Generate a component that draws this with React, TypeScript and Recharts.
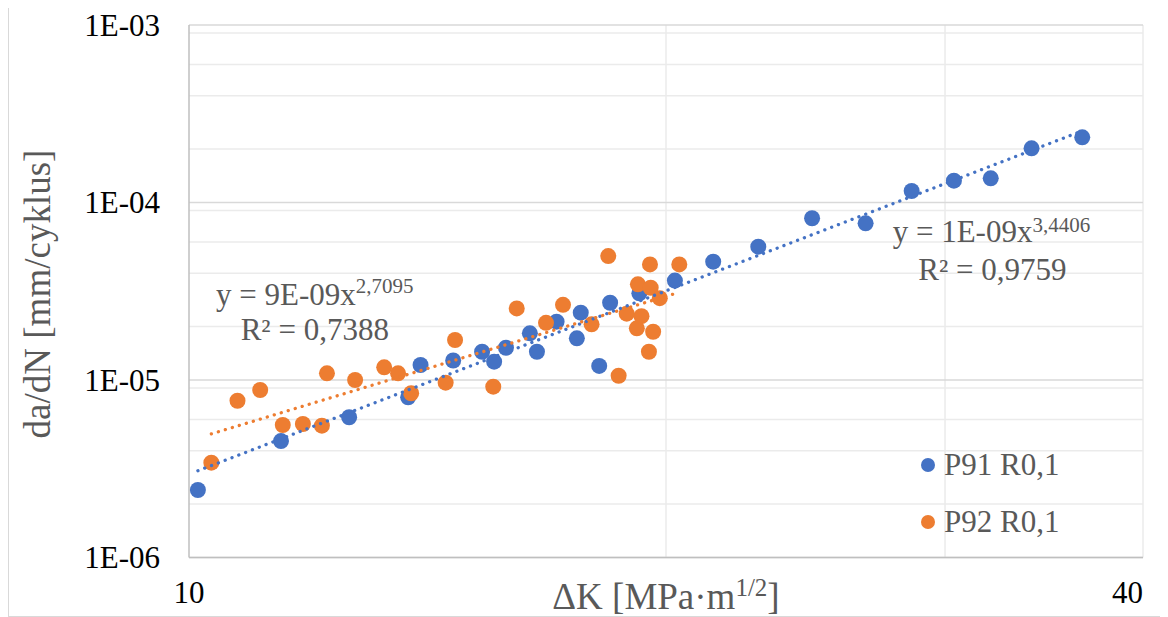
import { ScatterChart, Scatter, XAxis, YAxis, CartesianGrid, Legend } from "recharts";

const BLUE = "#4472C4";
const ORANGE = "#ED7D31";
const GRAY = "#595959";
const FONT = '"Liberation Serif", "Times New Roman", serif';

// P91 R0,1
const p91K = [
  10.13, 11.43, 12.62, 13.75, 14.0, 14.68, 15.31, 15.58, 15.85, 16.41, 16.58, 17.06, 17.57, 17.67,
  18.15, 18.44, 19.24, 20.26, 21.42, 22.87, 24.73, 26.73, 28.58, 30.39, 32.06, 34.02, 36.62,
];
const p91Rate = [
  2.4e-6, 4.53e-6, 6.17e-6, 7.99e-6, 1.215e-5, 1.288e-5, 1.443e-5, 1.268e-5, 1.52e-5, 1.833e-5,
  1.443e-5, 2.13e-5, 1.717e-5, 2.394e-5, 1.2e-5, 2.725e-5, 3.08e-5, 3.63e-5, 4.64e-5, 5.64e-5,
  8.15e-5, 7.63e-5, 1.161e-4, 1.327e-4, 1.369e-4, 2.02e-4, 2.33e-4,
];

// P92 R0,1
const p92K = [
  10.33, 10.73, 11.09, 11.46, 11.8, 12.13, 12.22, 12.73, 13.28, 13.55, 13.81, 14.52, 14.72, 15.56,
  16.1, 16.8, 17.22, 17.95, 18.39, 18.67, 18.89, 19.17, 19.2, 19.3, 19.51, 19.54, 19.56, 19.63,
  19.82, 20.39,
];
const p92Rate = [
  3.42e-6, 7.64e-6, 8.78e-6, 5.58e-6, 5.65e-6, 5.53e-6, 1.09e-5, 1.0e-5, 1.179e-5, 1.09e-5,
  8.42e-6, 9.66e-6, 1.68e-5, 9.17e-6, 2.53e-5, 2.1e-5, 2.65e-5, 2.06e-5, 4.99e-5, 1.057e-5,
  2.363e-5, 1.956e-5, 3.46e-5, 2.29e-5, 1.443e-5, 4.48e-5, 3.31e-5, 1.87e-5, 2.89e-5, 4.48e-5,
];

// power trendlines (straight on log-log), end points
const p91TrendK = [10.13, 36.62];
const p91TrendRate = [3.08e-6, 2.53e-4];
const p92TrendK = [10.33, 20.39];
const p92TrendRate = [4.97e-6, 3.12e-5];

const seriesNames = ["P91 R0,1", "P92 R0,1"];

const xTicks = [10, 20, 30, 40];
const xLabelled = [10, 40];
const yMajor = [1e-6, 1e-5, 1e-4, 1e-3];
const yMinor = [
  2e-6, 3e-6, 4e-6, 5e-6, 6e-6, 7e-6, 8e-6, 9e-6,
  2e-5, 3e-5, 4e-5, 5e-5, 6e-5, 7e-5, 8e-5, 9e-5,
  2e-4, 3e-4, 4e-4, 5e-4, 6e-4, 7e-4, 8e-4, 9e-4,
];
const yTicks = [...yMajor, ...yMinor].sort((a, b) => a - b);

const toPoints = (ks: number[], rates: number[]) => ks.map((k, i) => ({ k, rate: rates[i] }));

const p91 = toPoints(p91K, p91Rate);
const p92 = toPoints(p92K, p92Rate);
const p91Trend = toPoints(p91TrendK, p91TrendRate);
const p92Trend = toPoints(p92TrendK, p92TrendRate);

const isMajor = (v: number) => yMajor.some((m) => Math.abs(m - v) / m < 1e-6);

const formatExp = (v: number) => {
  const e = Math.round(Math.log10(v));
  return `1E${e < 0 ? "-" : "+"}${String(Math.abs(e)).padStart(2, "0")}`;
};

const XTick = ({ x, y, payload }: any) => {
  const v = payload.value;
  if (!xLabelled.includes(v)) return <g />;
  return (
    <text x={x} y={y + 45} textAnchor={v === 40 ? "end" : "middle"} fontSize={31} fontFamily={FONT} fill="#000">
      {v}
    </text>
  );
};

const YTick = ({ x, y, payload }: any) => {
  const v = payload.value;
  if (!isMajor(v)) return <g />;
  return (
    <text x={x - 29} y={y + 10.5} textAnchor="end" fontSize={31} fontFamily={FONT} fill="#000">
      {formatExp(v)}
    </text>
  );
};

const dot = (color: string) => (props: any) => <circle cx={props.cx} cy={props.cy} r={8} fill={color} />;

const trendLine = (color: string) => ({
  stroke: color,
  strokeWidth: 3.3,
  strokeDasharray: "0.1 7.2",
  strokeLinecap: "round" as const,
});

const LegendContent = ({ payload }: any) => (
  <div style={{ fontFamily: FONT, fontSize: 31, color: GRAY }}>
    {(payload || [])
      .filter((entry: any) => seriesNames.includes(entry.value))
      .map((entry: any) => (
        <div key={entry.value} style={{ display: "flex", alignItems: "center", height: 57 }}>
          <svg width={14} height={14} style={{ marginRight: 9 }}>
            <circle cx={7} cy={7} r={7} fill={entry.color} />
          </svg>
          <span>{entry.value}</span>
        </div>
      ))}
  </div>
);

export default function App() {
  return (
    <div
      style={{
        position: "relative",
        width: 1152,
        height: 609,
        marginTop: -2,
        border: "1px solid #d9d9d9",
        background: "#fff",
        fontFamily: FONT,
      }}
    >
      <ScatterChart width={1152} height={609} margin={{ top: 18, right: 18, left: 0, bottom: 8.5 }}>
        <CartesianGrid horizontalValues={yMinor} verticalValues={[20, 30, 40]} stroke="#ebebeb" strokeWidth={1.5} />
        <CartesianGrid horizontalValues={yMajor} vertical={false} stroke="#d9d9d9" strokeWidth={1.5} />
        <XAxis
          type="number"
          dataKey="k"
          scale="log"
          domain={[10, 40]}
          ticks={xTicks}
          allowDataOverflow
          height={50}
          tickLine={false}
          tickSize={0}
          tickMargin={0}
          axisLine={{ stroke: "#bfbfbf", strokeWidth: 1.5 }}
          tick={<XTick />}
        />
        <YAxis
          type="number"
          dataKey="rate"
          scale="log"
          domain={[1e-6, 1e-3]}
          ticks={yTicks}
          allowDataOverflow
          width={180}
          tickLine={false}
          tickSize={0}
          tickMargin={0}
          axisLine={{ stroke: "#bfbfbf", strokeWidth: 1.5 }}
          tick={<YTick />}
        />
        <Legend
          layout="vertical"
          align="center"
          verticalAlign="middle"
          wrapperStyle={{ left: 912, top: 429, width: 230 }}
          content={<LegendContent />}
        />
        <Scatter name="P91 R0,1" data={p91} fill={BLUE} shape={dot(BLUE)} isAnimationActive={false} />
        <Scatter name="P92 R0,1" data={p92} fill={ORANGE} shape={dot(ORANGE)} isAnimationActive={false} />
        <Scatter
          name="P91 trend"
          data={p91Trend}
          line={trendLine(BLUE)}
          shape={() => <g />}
          legendType="none"
          isAnimationActive={false}
        />
        <Scatter
          name="P92 trend"
          data={p92Trend}
          line={trendLine(ORANGE)}
          shape={() => <g />}
          legendType="none"
          isAnimationActive={false}
        />
      </ScatterChart>

      <svg
        width={1152}
        height={609}
        style={{ position: "absolute", left: 0, top: 0, pointerEvents: "none" }}
        fontFamily={FONT}
      >
        <text transform="translate(41, 287) rotate(-90)" textAnchor="middle" fontSize={37} fill={GRAY}>
          da/dN [mm/cyklus]
        </text>
        <text x={657} y={602} textAnchor="middle" fontSize={37} fill={GRAY}>
          ΔK [MPa·m
          <tspan fontSize={25} dy={-13}>1/2</tspan>
          <tspan dy={13}>]</tspan>
        </text>

        <text x={207} y={298} fontSize={31} fill={GRAY}>
          y = 9E-09x
          <tspan fontSize={21} dy={-12}>2,7095</tspan>
        </text>
        <text x={231.7} y={333} fontSize={31} fill={GRAY}>
          R² = 0,7388
        </text>

        <text x={883.7} y={235} fontSize={31} fill={GRAY}>
          y = 1E-09x
          <tspan fontSize={21} dy={-10}>3,4406</tspan>
        </text>
        <text x={909.3} y={273} fontSize={31} fill={GRAY}>
          R² = 0,9759
        </text>
      </svg>
    </div>
  );
}
